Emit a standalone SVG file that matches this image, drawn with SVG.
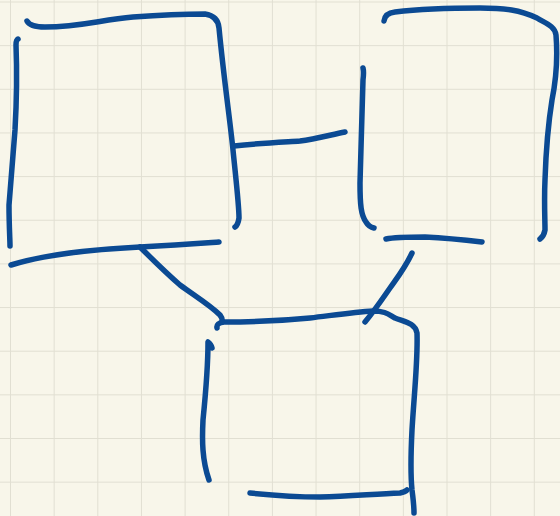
<svg xmlns="http://www.w3.org/2000/svg" width="560" height="516" viewBox="0 0 560 516">
<defs>
<pattern id="grid" x="10" y="1.5" width="43.65" height="43.65" patternUnits="userSpaceOnUse">
<path d="M0 0 H43.65 M0 0 V43.65" fill="none" stroke="#e1dfd2" stroke-width="2"/>
</pattern>
</defs>
<style>
.s{fill:none;stroke:#0b4a93;stroke-width:5.5;stroke-linecap:round;stroke-linejoin:round}
</style>
<rect width="560" height="516" fill="#f8f6ea"/>
<rect width="560" height="516" fill="url(#grid)"/>
<g id="node-1">
<path class="s" d="M27 21 Q30 27 45 27 C80 27 100 20 133 17 C160 15 185 14 205 14 Q218 16 219 28 C224 80 230 120 233 150 C236 180 239 205 239 218 Q238 225 235 227"/>
<path class="s" d="M18 39 Q16 40 16 45 C17 70 17 95 15 130 C12 165 10 190 9 205 C9 225 10 240 10 246"/>
<path class="s" d="M11 265 C40 256 80 250 140 247 C180 245 205 243 219 242"/>
</g>
<g id="node-2">
<path class="s" d="M363 68 Q364 72 363 80 C362 110 361 150 360 183 C360 205 361 215 366 222 Q369 227 374 228"/>
<path class="s" d="M384 21 Q385 13 395 12 C420 9 450 8 480 8 C505 8 520 10 537 18 C545 23 555 26 556 35 C558 60 556 80 552 100 C548 125 546 150 545 180 C544 200 545 220 545 230 Q544 236 540 239"/>
<path class="s" d="M386 239 C395 237 410 237 425 237 C445 238 465 240 482 242"/>
</g>
<g id="node-3">
<path class="s" d="M217 328 Q216 323 224 322 C250 322 280 321 310 318 C335 315 355 312 373 311 C385 311 388 314 395 318 C405 322 415 323 417 333 C418 360 414 395 412 430 C411 450 410 470 412 490 Q414 505 414 513"/>
<path class="s" d="M212 348 Q211 344 208 342 C208 360 206 390 203 420 C202 440 202 460 209 480"/>
<path class="s" d="M250 493 C270 495 290 497 320 497 C350 496 375 494 400 493 Q405 492 407 490"/>
</g>
<g id="connectors">
<path class="s" d="M234 146 C260 143 285 142 300 141 C315 139 330 135 345 132"/>
<path class="s" d="M140 247 C155 262 165 272 180 285 C195 296 210 305 220 315 Q223 319 222 322"/>
<path class="s" d="M412 253 C405 268 397 278 390 288 C383 298 375 310 365 322"/>
</g>
</svg>
